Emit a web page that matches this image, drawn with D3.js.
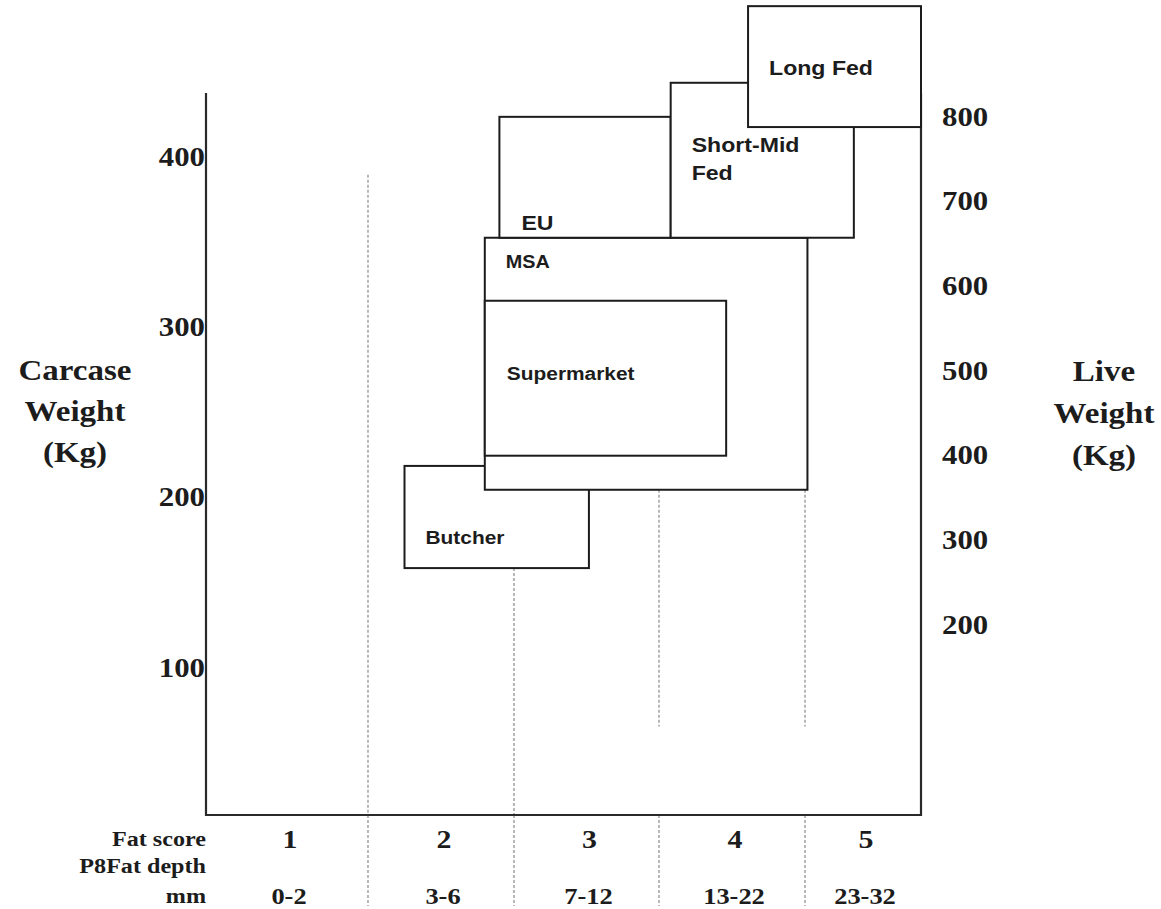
<!DOCTYPE html>
<html>
<head>
<meta charset="utf-8">
<script src="https://cdn.jsdelivr.net/npm/d3@7"></script>
<style>
  html, body { margin: 0; padding: 0; background: #fff; }
  svg { display: block; }
</style>
</head>
<body>
<div id="chart"></div>
<script>
// ---- Data ----------------------------------------------------------------
const fatScores = ["1", "2", "3", "4", "5"];
const fatDepthRanges = ["0-2", "3-6", "7-12", "13-22", "23-32"];
// P8 fat depth (mm) at the column boundaries between fat scores
const depthBreaks = [0, 2.5, 6.5, 12.5, 22.5, 32];

const carcaseTicks = [100, 200, 300, 400];
const liveTicks = [800, 700, 600, 500, 400, 300, 200];

// Market specification windows: fat depth (mm) x carcase weight (kg)
const markets = ["Butcher", "MSA", "Supermarket", "EU", "Short-Mid Fed", "Long Fed"];
const depthFrom = [3.5, 5.7, 5.7, 6.1, 13.3, 18.6];
const depthTo = [9.6, 22.7, 17.1, 13.3, 26.5, 32];
const weightFrom = [157, 203, 223, 351, 351, 416];
const weightTo = [217, 351, 314, 422, 442, 487];

// Dotted guides at the fat-score boundaries (carcase weight span above the axis)
const guideDepth = [2.5, 6.5, 12.5, 22.5];
const guideLow = [12, 12, 64, 64];
const guideHigh = [388, 157, 203, 203];

// ---- Layout --------------------------------------------------------------
const W = 1161, H = 909;
const frame = { left: 206, right: 921, top: 93, bottom: 815 };
const footBottom = 906;
const serif = "'Liberation Serif', 'Times New Roman', serif";
const sans = "'Liberation Sans', Arial, sans-serif";
const stretch = 1.1;
const ink = "#1c1c1c";

// label placement inside each market box (px from its top-left corner)
const labelLayout = {
  "Butcher":       { dx: 21, dy: 71, size: 19, lines: ["Butcher"] },
  "MSA":           { dx: 21, dy: 24, size: 18, lines: ["MSA"] },
  "Supermarket":   { dx: 22, dy: 73, size: 19, lines: ["Supermarket"] },
  "EU":            { dx: 22, dy: 106, size: 21, lines: ["EU"] },
  "Short-Mid Fed": { dx: 21, dy: 62, size: 21, lines: ["Short-Mid", "Fed"] },
  "Long Fed":      { dx: 21, dy: 62, size: 21, lines: ["Long Fed"] }
};

const svg = d3.select("#chart").append("svg")
  .attr("width", W).attr("height", H)
  .style("background", "#fff");

// ---- Scales ----------------------------------------------------------------
const x = d3.scaleLinear()
  .domain(depthBreaks)
  .range([frame.left, 368, 514, 659, 805, frame.right]);

const yCarcase = d3.scaleLinear()
  .domain([12, 436])
  .range([frame.bottom, frame.top]);

const yLive = d3.scaleLinear()
  .domain([200, 800])
  .range([624, 116]);

// helper for horizontally stretched text
function label(sel, tx, ty, txt, opts) {
  return sel.append("text")
    .attr("transform", `translate(${tx},${ty}) scale(${opts.sx || stretch},1)`)
    .attr("text-anchor", opts.anchor || "start")
    .attr("dominant-baseline", "central")
    .style("font-family", opts.family || serif)
    .style("font-weight", "bold")
    .style("font-size", opts.size + "px")
    .attr("fill", ink)
    .text(txt);
}

// ---- Dotted guides ----------------------------------------------------------
const guides = svg.append("g")
  .attr("stroke", "#8a8a8a")
  .attr("stroke-width", 1.2)
  .attr("stroke-dasharray", "3,2");

guideDepth.forEach((d, i) => {
  guides.append("line")
    .attr("x1", x(d)).attr("x2", x(d))
    .attr("y1", yCarcase(guideHigh[i]))
    .attr("y2", yCarcase(guideLow[i]));
  guides.append("line")
    .attr("x1", x(d)).attr("x2", x(d))
    .attr("y1", frame.bottom)
    .attr("y2", footBottom);
});

// ---- Frame ------------------------------------------------------------------
const axisG = svg.append("g")
  .attr("stroke", "#2a2a2a")
  .attr("stroke-width", 2.2)
  .attr("fill", "none");
axisG.append("path")
  .attr("d", `M${frame.left},${frame.top}V${frame.bottom}H${frame.right}V${frame.top}`);

// ---- Market boxes -----------------------------------------------------------
const boxes = svg.append("g");
markets.forEach((m, i) => {
  const x0 = x(depthFrom[i]), x1 = x(depthTo[i]);
  const y0 = yCarcase(weightTo[i]), y1 = yCarcase(weightFrom[i]);
  boxes.append("rect")
    .attr("x", x0).attr("y", y0)
    .attr("width", x1 - x0).attr("height", y1 - y0)
    .attr("fill", "#fff")
    .attr("stroke", ink)
    .attr("stroke-width", 2);
  const L = labelLayout[m];
  L.lines.forEach((t, k) => {
    label(boxes, x0 + L.dx, y0 + L.dy + k * 28, t, { family: sans, size: L.size });
  });
});

// ---- Left axis: carcase weight ----------------------------------------------
const leftAxis = svg.append("g");
carcaseTicks.forEach(v => {
  label(leftAxis, frame.left - 1, yCarcase(v) + 2, String(v), { size: 28, anchor: "end" });
});
["Carcase", "Weight", "(Kg)"].forEach((t, k) => {
  label(leftAxis, 75, 370 + k * 41, t, { size: 30, anchor: "middle" });
});

// ---- Right axis: live weight ------------------------------------------------
const rightAxis = svg.append("g");
liveTicks.forEach(v => {
  label(rightAxis, 942, yLive(v), String(v), { size: 28, anchor: "start" });
});
["Live", "Weight", "(Kg)"].forEach((t, k) => {
  label(rightAxis, 1104, 371 + k * 42, t, { size: 30, anchor: "middle" });
});

// ---- Bottom: fat score and P8 fat depth ------------------------------------
const foot = svg.append("g");
label(foot, frame.left, 839, "Fat score", { size: 21, anchor: "end", sx: 1.15 });
label(foot, frame.left, 866, "P8Fat depth", { size: 21, anchor: "end", sx: 1.15 });
label(foot, frame.left, 896, "mm", { size: 21, anchor: "end", sx: 1.15 });

fatScores.forEach((s, i) => {
  const cx = (x(depthBreaks[i]) + x(depthBreaks[i + 1])) / 2;
  label(foot, cx + 3, 839, s, { size: 26, anchor: "middle", sx: 1.15 });
  label(foot, cx + 2, 896, fatDepthRanges[i], { size: 23, anchor: "middle", sx: 1.15 });
});
</script>
</body>
</html>
